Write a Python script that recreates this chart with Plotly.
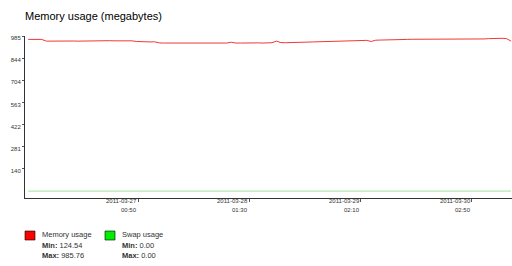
import plotly.graph_objects as go
import pandas as pd

# ---------------- data ----------------
start_time = "2011-03-26 00:30"
memory_values = [
    964, 965, 964, 964,
    953, 954, 953, 954, 953, 953, 954, 953, 954,
    955, 955, 956, 955, 955, 956, 955, 956, 955, 956, 955,
    951, 949, 948, 948, 949,
    942, 941, 941, 942, 941, 940, 941, 941, 942, 941, 941, 940, 941, 942, 941, 941,
    946,
    941, 941, 942, 941, 941, 942, 941,
    942, 943,
    953,
    944, 943, 943, 944, 945, 946, 947, 948, 949, 950, 951, 951, 952, 953, 954, 955, 956,
    957, 957, 958, 951,
    959, 960, 960, 961, 962, 962, 963,
    964, 965, 965, 966, 966, 967, 966, 967, 967, 966, 967, 966, 965, 964, 963, 964, 965,
    967, 969, 971, 972, 971,
    969, 953,
]
memory_times = pd.date_range(start_time, periods=len(memory_values), freq="h")

swap_times = ["2011-03-26 00:30", "2011-03-30 11:30"]
swap_values = [0.0, 0.0]

y_tick_values = [140.82, 281.65, 422.47, 563.29, 704.11, 844.94, 985.76]
y_tick_labels = ["140", "281", "422", "563", "704", "844", "985"]

x_tick_times = ["2011-03-27 00:50", "2011-03-28 01:30", "2011-03-29 02:10", "2011-03-30 02:50"]
x_tick_dates = ["2011-03-27", "2011-03-28", "2011-03-29", "2011-03-30"]
x_tick_clock = ["00:50", "01:30", "02:10", "02:50"]

series_names = ["Memory usage", "Swap usage"]
series_min = ["124.54", "0.00"]
series_max = ["985.76", "0.00"]
series_colors = ["#ff0000", "#00ee00"]

title_text = "Memory usage (megabytes)"

# ---------------- layout geometry ----------------
W, H = 512, 266
PL, PR, PT, PB = 25, 512, 36, 198
FONT = "Liberation Sans, Arial, sans-serif"


def px(X):
    return (X - PL) / (PR - PL)


def py(Y):
    return (PB - Y) / (PB - PT)


fig = go.Figure()
fig.add_trace(go.Scatter(x=memory_times, y=memory_values, mode="lines",
                         line=dict(color="#f02020", width=0.9), hoverinfo="skip"))
fig.add_trace(go.Scatter(x=swap_times, y=swap_values, mode="lines",
                         line=dict(color="#9fe39f", width=1), hoverinfo="skip"))

annotations = []
# x tick labels (right aligned under tick)
for t, d, c in zip(x_tick_times, x_tick_dates, x_tick_clock):
    annotations.append(dict(x=t, xref="x", y=py(201), yref="paper", text=d,
                            showarrow=False, xanchor="right", yanchor="middle",
                            xshift=1, font=dict(size=6, color="#333", family=FONT)))
    annotations.append(dict(x=t, xref="x", y=py(210.5), yref="paper", text=c,
                            showarrow=False, xanchor="right", yanchor="middle",
                            xshift=1, font=dict(size=6, color="#333", family=FONT)))

# legend
shapes = []
leg_x = [25, 105]
for i in range(2):
    x0 = leg_x[i]
    shapes.append(dict(type="rect", xref="paper", yref="paper",
                       x0=px(x0), x1=px(x0 + 10), y0=py(231), y1=py(240),
                       fillcolor=series_colors[i], line=dict(color="#000", width=0.6)))
    lines = [series_names[i], "<b>Min:</b> " + series_min[i], "<b>Max:</b> " + series_max[i]]
    for j, (txt, yy) in enumerate(zip(lines, [235, 245, 255])):
        annotations.append(dict(x=px(x0 + 15), xref="paper", y=py(yy), yref="paper",
                                text=txt, showarrow=False, xanchor="left", yanchor="middle",
                                font=dict(size=7.5, color="#333", family=FONT)))

fig.update_layout(
    width=W, height=H,
    margin=dict(l=PL, r=W - PR, t=PT, b=H - PB, pad=0),
    paper_bgcolor="white", plot_bgcolor="white",
    showlegend=False,
    title=dict(text=title_text, x=0, xref="paper", xanchor="left",
               y=1 - 16 / H, yref="container", yanchor="middle",
               font=dict(size=11, color="#000", family=FONT)),
    xaxis=dict(range=["2011-03-25 23:47", "2011-03-30 11:42"],
               tickvals=x_tick_times, showticklabels=False,
               ticks="outside", ticklen=3, tickcolor="#555", tickwidth=1,
               showline=True, linecolor="#333", linewidth=1,
               showgrid=False, zeroline=False),
    yaxis=dict(range=[-44, 985.76], tickvals=y_tick_values, ticktext=y_tick_labels,
               ticks="outside", ticklen=2, tickcolor="#555", tickwidth=1,
               ticklabelshift=2,
               showline=True, linecolor="#333", linewidth=1,
               showgrid=False, zeroline=False,
               tickfont=dict(size=6, color="#333", family=FONT)),
    annotations=annotations, shapes=shapes,
)

fig.write_html("out.html")
